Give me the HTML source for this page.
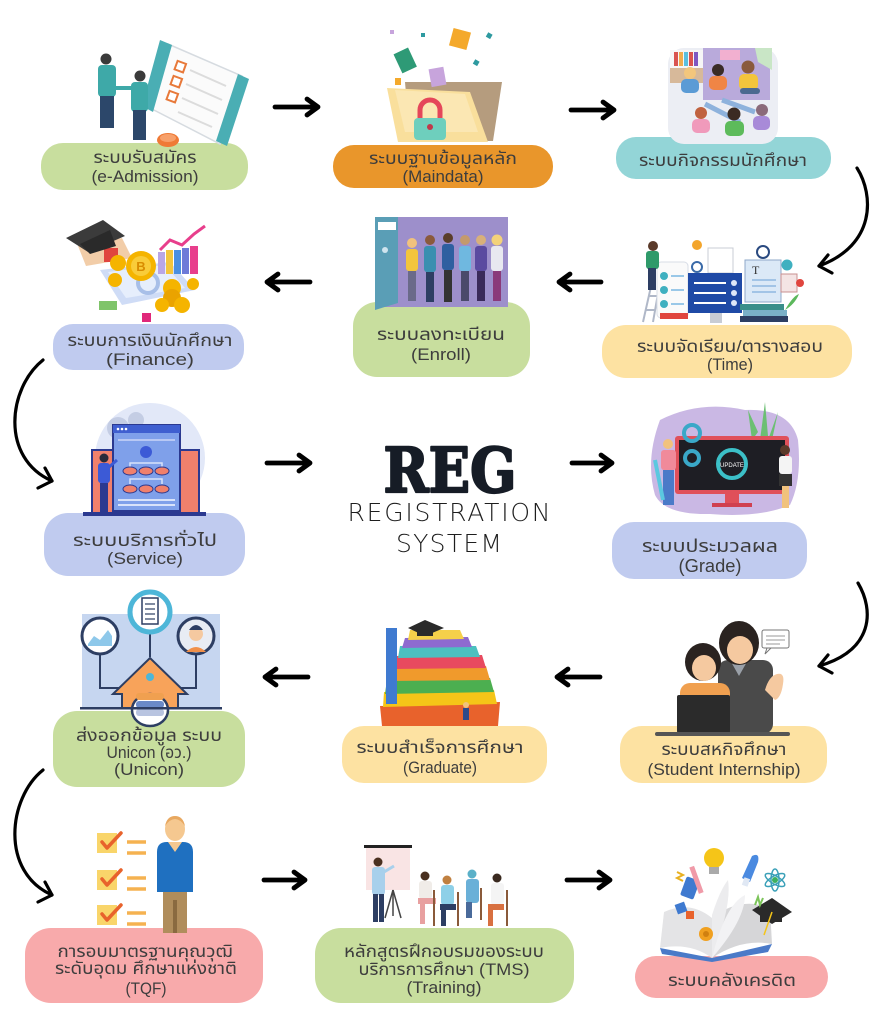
<!DOCTYPE html>
<html><head><meta charset="utf-8">
<style>
html,body{margin:0;padding:0;background:#fff;}
svg{display:block;}
.t{font-family:"Liberation Sans","Noto Sans Thai","Tahoma","Loma","Garuda","Noto Sans CJK SC",sans-serif;font-size:17px;fill:#3d3d3d;text-anchor:middle;}
</style></head><body>
<svg width="876" height="1024" viewBox="0 0 876 1024" xmlns="http://www.w3.org/2000/svg">
<rect width="876" height="1024" fill="#fff"/>

<!-- PILLS -->
<rect x="41" y="143" width="207" height="47" rx="22" fill="#c8de9e"/>
<rect x="333" y="145" width="220" height="43" rx="21" fill="#e9962b"/>
<rect x="616" y="137" width="215" height="42" rx="20" fill="#93d5d7"/>
<rect x="53" y="324" width="191" height="46" rx="20" fill="#c0cbef"/>
<rect x="353" y="302" width="177" height="75" rx="24" fill="#c8de9e"/>
<rect x="602" y="325" width="250" height="53" rx="24" fill="#fde2a2"/>
<rect x="44" y="513" width="201" height="63" rx="24" fill="#c0cbef"/>
<rect x="612" y="522" width="195" height="57" rx="22" fill="#c0cbef"/>
<rect x="53" y="711" width="192" height="76" rx="24" fill="#c8de9e"/>
<rect x="342" y="726" width="205" height="57" rx="22" fill="#fde2a2"/>
<rect x="620" y="726" width="207" height="57" rx="22" fill="#fde2a2"/>
<rect x="25" y="928" width="238" height="75" rx="26" fill="#f8aaab"/>
<rect x="315" y="928" width="259" height="75" rx="26" fill="#c8de9e"/>
<rect x="635" y="956" width="193" height="42" rx="21" fill="#f8aaab"/>

<!-- ILLUSTRATION 1: Admission -->
<g>
<polygon points="168,44 242,76 220,144 150,108" fill="#fbfbfb" stroke="#d6dbe0" stroke-width="1.5"/>
<polygon points="160,40 172,45 153,112 142,106" fill="#4aaeb4"/>
<polygon points="238,74 249,79 227,146 216,141" fill="#4aaeb4"/>
<g stroke="#dcdcdc" stroke-width="2">
<line x1="190" y1="70" x2="226" y2="86"/><line x1="186" y1="84" x2="222" y2="100"/>
<line x1="182" y1="98" x2="218" y2="114"/><line x1="178" y1="112" x2="212" y2="127"/>
</g>
<g fill="#fff" stroke="#e8793a" stroke-width="2">
<rect x="176" y="62" width="9" height="9" transform="rotate(20 180 66)"/>
<rect x="172" y="77" width="9" height="9" transform="rotate(20 176 81)"/>
<rect x="168" y="92" width="9" height="9" transform="rotate(20 172 96)"/>
</g>
<ellipse cx="168" cy="140" rx="11" ry="7" fill="#ef7a36"/>
<ellipse cx="168" cy="138" rx="8" ry="4" fill="#f7a06a"/>
<circle cx="106" cy="59" r="5.5" fill="#3a3a3a"/>
<rect x="98" y="65" width="18" height="32" rx="4" fill="#3ea9a8"/>
<rect x="100" y="96" width="14" height="32" fill="#2c476a"/>
<circle cx="140" cy="76" r="5.5" fill="#3a3a3a"/>
<rect x="131" y="82" width="17" height="30" rx="4" fill="#3ea9a8"/>
<rect x="133" y="110" width="13" height="30" fill="#2c476a"/>
<line x1="115" y1="88" x2="132" y2="88" stroke="#3ea9a8" stroke-width="4"/>
</g>

<!-- ILLUSTRATION 2: Maindata -->
<g>
<polygon points="405,82 502,82 493,141 410,141" fill="#b59c7e"/>
<polygon points="387,88 470,92 488,142 398,142" fill="#f9df9c"/>
<polygon points="395,90 465,94 478,132 405,132" fill="#fbe7b3"/>
<path d="M420,120 v-10 a10,10 0 0 1 20,0 v10" fill="none" stroke="#e5475a" stroke-width="5"/>
<rect x="414" y="118" width="32" height="22" rx="4" fill="#6ecfbd"/>
<circle cx="430" cy="127" r="3" fill="#c0394a"/>
<rect x="397" y="50" width="16" height="21" fill="#2e9a76" transform="rotate(-25 405 60)"/>
<rect x="451" y="30" width="18" height="18" fill="#f4a92c" transform="rotate(15 460 39)"/>
<rect x="430" y="68" width="15" height="18" fill="#c7a4dc" transform="rotate(-10 437 77)"/>
<rect x="487" y="33" width="5" height="5" fill="#2e9aa0" transform="rotate(30 489 35)"/>
<rect x="474" y="60" width="5" height="5" fill="#2e9aa0" transform="rotate(30 476 62)"/>
<rect x="421" y="33" width="4" height="4" fill="#2e9aa0"/>
<rect x="390" y="30" width="4" height="4" fill="#c7a4dc"/>
<rect x="395" y="78" width="6" height="7" fill="#f4a92c"/>
</g>

<!-- ILLUSTRATION 3: Activities -->
<g>
<rect x="668" y="48" width="110" height="96" rx="16" fill="#eceef4"/>
<rect x="703" y="48" width="67" height="52" fill="#b9aadb"/>
<rect x="720" y="50" width="20" height="10" fill="#f2b0d0"/>
<polygon points="755,48 772,48 772,70 758,62" fill="#c9e6c6"/>
<rect x="670" y="50" width="33" height="33" fill="#f6f6f6"/>
<g><rect x="674" y="52" width="4" height="14" fill="#d9534f"/><rect x="679" y="52" width="4" height="14" fill="#f0ad4e"/><rect x="684" y="52" width="4" height="14" fill="#5bc0de"/><rect x="689" y="52" width="4" height="14" fill="#d9534f"/><rect x="694" y="52" width="4" height="14" fill="#7e57c2"/></g>
<rect x="670" y="68" width="33" height="15" fill="#d7b99a"/>
<circle cx="690" cy="73" r="6" fill="#f3c67c"/><rect x="681" y="79" width="18" height="14" rx="5" fill="#5b9bd5"/>
<circle cx="718" cy="70" r="6" fill="#3a2b26"/><rect x="709" y="76" width="18" height="14" rx="5" fill="#f08545"/>
<circle cx="748" cy="67" r="6.5" fill="#8a5a3c"/><rect x="739" y="74" width="19" height="16" rx="5" fill="#f3c53c"/>
<rect x="740" y="88" width="20" height="6" rx="3" fill="#4c6a90"/>
<g stroke="#8eb2dc" stroke-width="5"><line x1="705" y1="104" x2="740" y2="122"/><line x1="722" y1="100" x2="755" y2="112"/></g>
<circle cx="701" cy="113" r="6" fill="#c0623f"/><rect x="692" y="119" width="18" height="14" rx="5" fill="#f09abb"/>
<circle cx="734" cy="114" r="6.5" fill="#3b2b22"/><rect x="725" y="121" width="19" height="15" rx="5" fill="#5dbb5b"/>
<circle cx="762" cy="110" r="6" fill="#8b6a7a"/><rect x="753" y="116" width="17" height="14" rx="5" fill="#a88ad8"/>
</g>

<!-- ILLUSTRATION 4: Finance -->
<g>
<polygon points="100,270 170,262 195,290 122,305" fill="#cfdcf6"/>
<polygon points="108,272 165,265 185,288 126,298" fill="#e6eefc"/>
<circle cx="148" cy="283" r="10" fill="none" stroke="#a8bfe8" stroke-width="4"/>
<polygon points="78,246 122,238 132,258 86,266" fill="#f2cda8"/>
<rect x="104" y="248" width="14" height="14" fill="#e0453e"/>
<polygon points="66,238 103,220 125,236 88,252" fill="#3b3b3b"/>
<polygon points="80,244 110,230 116,246 90,254" fill="#2a2a2a"/>
<rect x="158" y="252" width="7" height="22" fill="#b9a6e6"/>
<rect x="166" y="250" width="7" height="24" fill="#f3c53c"/>
<rect x="174" y="250" width="7" height="24" fill="#4a8fe0"/>
<rect x="182" y="248" width="7" height="26" fill="#6d7ad8"/>
<rect x="190" y="246" width="8" height="28" fill="#e83e8c"/>
<polyline points="160,250 170,240 182,245 194,234 205,226" fill="none" stroke="#e83e8c" stroke-width="3"/>
<circle cx="141" cy="266" r="15" fill="#f5b400"/>
<circle cx="141" cy="266" r="10" fill="#f9cc3a"/>
<text x="141" y="271" font-family="Liberation Sans,sans-serif" font-size="13" font-weight="bold" fill="#d98c00" text-anchor="middle">B</text>
<circle cx="118" cy="263" r="8" fill="#f5b400"/>
<circle cx="115" cy="280" r="7" fill="#f5b400"/>
<circle cx="172" cy="288" r="9" fill="#f5b400"/><circle cx="172" cy="298" r="9" fill="#eaa300"/>
<circle cx="182" cy="305" r="8" fill="#f5b400"/>
<circle cx="193" cy="284" r="6" fill="#f5b400"/>
<circle cx="162" cy="305" r="7" fill="#f5b400"/>
<rect x="99" y="301" width="18" height="9" fill="#7fc46a"/>
<rect x="142" y="313" width="9" height="9" fill="#e0287a"/>
</g>

<!-- ILLUSTRATION 5: Enroll -->
<g>
<rect x="375" y="217" width="133" height="90" fill="#9d8fcb"/>
<polygon points="375,217 398,217 398,303 375,310" fill="#5a9eb6"/>
<rect x="378" y="222" width="18" height="8" fill="#fff"/>
<circle cx="385" cy="250" r="3" fill="#cfe4ee"/>
<g>
<circle cx="412" cy="243" r="5" fill="#f1c27d"/><rect x="406" y="249" width="12" height="22" rx="3" fill="#f3c53c"/><rect x="408" y="271" width="8" height="30" fill="#6a6a8a"/>
<circle cx="430" cy="240" r="5" fill="#8a5a3c"/><rect x="424" y="246" width="12" height="26" rx="3" fill="#3a8fb0"/><rect x="426" y="272" width="8" height="30" fill="#2d3e63"/>
<circle cx="448" cy="238" r="5" fill="#5a3e2a"/><rect x="442" y="244" width="12" height="26" rx="3" fill="#2e5fa0"/><rect x="444" y="270" width="8" height="32" fill="#333"/>
<circle cx="465" cy="240" r="5" fill="#c49a6c"/><rect x="459" y="246" width="12" height="25" rx="3" fill="#6fb8e0"/><rect x="461" y="271" width="8" height="30" fill="#4a4a6a"/>
<circle cx="481" cy="240" r="5" fill="#d8b07a"/><rect x="475" y="246" width="12" height="25" rx="3" fill="#5a4aa0"/><rect x="477" y="271" width="8" height="30" fill="#3a2a5a"/>
<circle cx="497" cy="240" r="5.5" fill="#f3d27a"/><rect x="491" y="246" width="12" height="25" rx="3" fill="#e8e8f0"/><rect x="493" y="271" width="8" height="30" fill="#8a3a7a"/>
</g>
</g>

<!-- ILLUSTRATION 6: Time -->
<g>
<g stroke="#b0b8c8" stroke-width="2"><line x1="643" y1="322" x2="652" y2="282"/><line x1="653" y1="322" x2="660" y2="282"/><line x1="645" y1="310" x2="655" y2="310"/><line x1="648" y1="296" x2="657" y2="296"/></g>
<rect x="657" y="262" width="31" height="56" rx="4" fill="#fafafa" stroke="#d8dde6"/>
<g fill="#3fb0c0"><circle cx="664" cy="276" r="4"/><circle cx="664" cy="290" r="4"/><circle cx="664" cy="304" r="4"/></g>
<g stroke="#9ac8e8" stroke-width="2"><line x1="671" y1="276" x2="684" y2="276"/><line x1="671" y1="290" x2="684" y2="290"/><line x1="671" y1="304" x2="684" y2="304"/></g>
<rect x="660" y="313" width="28" height="6" fill="#e0453e"/>
<circle cx="653" cy="246" r="5" fill="#5a3a2a"/>
<rect x="646" y="251" width="13" height="18" rx="3" fill="#2f9a6a"/>
<rect x="648" y="268" width="8" height="22" fill="#2d3e63"/>
<rect x="708" y="248" width="25" height="25" fill="#fff" stroke="#c8ccd4"/>
<circle cx="697" cy="245" r="5" fill="#f3a52c"/>
<circle cx="697" cy="267" r="5" fill="none" stroke="#3a6aa8" stroke-width="2"/>
<rect x="688" y="273" width="54" height="40" fill="#1f4aa6"/>
<g stroke="#fff" stroke-width="2"><line x1="694" y1="283" x2="726" y2="283"/><line x1="694" y1="293" x2="726" y2="293"/><line x1="694" y1="303" x2="726" y2="303"/></g>
<g fill="#dfe8f8"><circle cx="734" cy="283" r="3"/><circle cx="734" cy="293" r="3"/><circle cx="734" cy="303" r="3"/></g>
<rect x="710" y="313" width="12" height="10" fill="#c8ccd4"/>
<rect x="745" y="260" width="36" height="42" fill="#dbe9f7" stroke="#8fa8c8"/>
<text x="752" y="274" font-family="Liberation Serif,serif" font-size="12" fill="#333">T</text>
<g stroke="#8fb8e0" stroke-width="1.5"><line x1="752" y1="280" x2="776" y2="280"/><line x1="752" y1="286" x2="776" y2="286"/><line x1="752" y1="292" x2="776" y2="292"/></g>
<circle cx="763" cy="252" r="6" fill="#fff" stroke="#2a4a80" stroke-width="2"/>
<rect x="781" y="274" width="16" height="18" fill="#f4e4e4" stroke="#c89090"/>
<circle cx="787" cy="265" r="5.5" fill="#3fb0c0"/>
<circle cx="800" cy="283" r="4" fill="#e0453e"/>
<rect x="740" y="304" width="44" height="6" fill="#3a8f8a"/>
<rect x="743" y="310" width="44" height="6" fill="#7ab0c8"/>
<rect x="740" y="316" width="48" height="6" fill="#2d3e63"/>
<path d="M785,310 q8,-14 14,-16 q-4,10 -14,16z" fill="#5cb85c"/>
</g>

<!-- ILLUSTRATION 7: Service -->
<g>
<circle cx="150" cy="458" r="55" fill="#e2e8f8"/>
<circle cx="118" cy="428" r="11" fill="#c4cde4"/>
<circle cx="136" cy="420" r="8" fill="#c4cde4"/>
<rect x="92" y="450" width="22" height="63" fill="#f0806c" stroke="#2b3990" stroke-width="2"/>
<rect x="178" y="450" width="21" height="63" fill="#f0806c" stroke="#2b3990" stroke-width="2"/>
<rect x="113" y="425" width="67" height="86" fill="#7fa0ea" stroke="#2b3990" stroke-width="2"/>
<rect x="113" y="425" width="67" height="8" fill="#3f5fd0"/>
<g fill="#fff"><circle cx="118" cy="429" r="1.3"/><circle cx="122" cy="429" r="1.3"/><circle cx="126" cy="429" r="1.3"/></g>
<line x1="118" y1="440" x2="175" y2="440" stroke="#b8c8f4" stroke-width="2"/>
<circle cx="146" cy="452" r="6" fill="#3c5ad6"/>
<g fill="none" stroke="#d8e2fa" stroke-width="1.5"><path d="M130,468 v-5 h32 v5"/><path d="M130,484 v-5 h32 v5"/></g>
<g fill="#f0806c" stroke="#2b3990" stroke-width="1"><ellipse cx="130" cy="471" rx="7" ry="4"/><ellipse cx="146" cy="471" rx="7" ry="4"/><ellipse cx="162" cy="471" rx="7" ry="4"/><ellipse cx="130" cy="489" rx="7" ry="4"/><ellipse cx="146" cy="489" rx="7" ry="4"/><ellipse cx="162" cy="489" rx="7" ry="4"/></g>
<g stroke="#d8e2fa" stroke-width="2"><line x1="118" y1="500" x2="175" y2="500"/><line x1="118" y1="505" x2="175" y2="505"/></g>
<circle cx="104" cy="458" r="4.5" fill="#2a2a3a"/>
<rect x="98" y="463" width="12" height="20" rx="3" fill="#3c5ad6"/>
<rect x="100" y="483" width="8" height="29" fill="#2b3990"/>
<line x1="108" y1="468" x2="117" y2="460" stroke="#3c5ad6" stroke-width="3"/>
<rect x="83" y="512" width="123" height="4" fill="#2b3990"/>
</g>

<!-- ILLUSTRATION 8: Grade -->
<g>
<path d="M660,420 Q700,400 745,410 Q790,408 798,440 Q802,480 790,505 Q760,518 710,514 Q665,515 655,495 Q645,460 660,420Z" fill="#cab8e4"/>
<g fill="#6cbf73"><polygon points="752,440 748,410 758,432"/><polygon points="760,440 765,402 768,436"/><polygon points="768,440 778,412 772,440"/></g>
<rect x="675" y="436" width="114" height="58" rx="3" fill="#e0505a"/>
<rect x="679" y="440" width="106" height="50" fill="#1e1e24"/>
<circle cx="732" cy="464" r="14" fill="none" stroke="#3cc0c8" stroke-width="4"/>
<text x="732" y="467" font-family="Liberation Sans,sans-serif" font-size="6" fill="#fff" text-anchor="middle">UPDATE</text>
<rect x="725" y="494" width="14" height="10" fill="#e0505a"/>
<rect x="712" y="503" width="40" height="4" fill="#d04050"/>
<circle cx="692" cy="433" r="8" fill="none" stroke="#3aa8c8" stroke-width="4"/>
<circle cx="692" cy="458" r="7" fill="none" stroke="#3aa8c8" stroke-width="4"/>
<circle cx="668" cy="444" r="5" fill="#f1c27d"/>
<rect x="661" y="450" width="15" height="20" rx="3" fill="#f08a9a"/>
<rect x="663" y="470" width="11" height="35" fill="#4a7ac8"/>
<path d="M655,460 l8,40" stroke="#5bc8e0" stroke-width="4"/>
<circle cx="785" cy="450" r="5" fill="#5a3a2a"/>
<rect x="779" y="456" width="13" height="18" rx="3" fill="#f4f4f4"/>
<rect x="779" y="474" width="13" height="12" fill="#333"/>
<rect x="782" y="486" width="7" height="22" fill="#f1c27d"/>
</g>

<!-- ILLUSTRATION 9: Unicon -->
<g>
<rect x="82" y="614" width="138" height="94" fill="#c6d6f0"/>
<g stroke="#2d3e63" stroke-width="2" fill="none">
<path d="M100,653 v35 h20"/><path d="M150,632 v25"/><path d="M196,653 v35 h-16"/>
</g>
<circle cx="100" cy="636" r="18" fill="#fff" stroke="#2d3e63" stroke-width="3"/>
<path d="M88,644 l6,-8 l6,4 l8,-10 l4,6 v10 h-24z" fill="#8ec8ea"/>
<circle cx="150" cy="612" r="20" fill="#fff" stroke="#4db6d8" stroke-width="5"/>
<rect x="142" y="598" width="16" height="26" fill="#fff" stroke="#2d3e63" stroke-width="1.5"/>
<g stroke="#2d3e63" stroke-width="1.2"><line x1="145" y1="604" x2="155" y2="604"/><line x1="145" y1="609" x2="155" y2="609"/><line x1="145" y1="614" x2="155" y2="614"/><line x1="145" y1="619" x2="155" y2="619"/></g>
<circle cx="196" cy="636" r="18" fill="#e8ecf4" stroke="#2d3e63" stroke-width="3"/>
<path d="M186,652 q10,-10 20,0z" fill="#f0904a"/>
<circle cx="196" cy="634" r="7" fill="#f5c9a0"/>
<path d="M189,630 q7,-10 14,0" fill="#2d3e63"/>
<polygon points="113,694 150,658 187,694 178,694 178,708 122,708 122,694" fill="#f8a35a" stroke="#2d3e63" stroke-width="2"/>
<circle cx="150" cy="677" r="4" fill="#4db6d8"/>
<ellipse cx="150" cy="710" rx="18" ry="16" fill="#fff" stroke="#2d3e63" stroke-width="2.5"/>
<rect x="136" y="693" width="28" height="7" rx="3" fill="#f0a050"/>
<rect x="136" y="701" width="28" height="7" rx="3" fill="#6a8ac8"/>
<rect x="136" y="709" width="28" height="7" rx="3" fill="#b8c4e0"/>
<rect x="80" y="707" width="142" height="2.5" fill="#2d3e63"/>
</g>

<!-- ILLUSTRATION 10: Graduate -->
<g>
<polygon points="380,706 500,702 498,726 382,726" fill="#e8622c"/>
<polygon points="384,692 494,690 497,704 383,707" fill="#f5c518"/>
<polygon points="387,679 490,678 494,692 385,694" fill="#4caf50"/>
<polygon points="392,667 486,666 490,680 389,681" fill="#f09a2c"/>
<polygon points="396,656 482,655 486,668 393,669" fill="#e84a5f"/>
<polygon points="400,646 476,646 480,657 398,658" fill="#4cc0c0"/>
<polygon points="405,638 468,637 472,647 402,648" fill="#8e6ad0"/>
<polygon points="410,630 460,630 464,639 408,640" fill="#f5d04a"/>
<rect x="386" y="628" width="11" height="76" fill="#3f7ad0"/>
<polygon points="408,628 425,620 444,628 425,636" fill="#2a2a2a"/>
<rect x="417" y="630" width="16" height="6" fill="#2a2a2a"/>
<circle cx="466" cy="705" r="3" fill="#f1c27d"/><rect x="463" y="708" width="6" height="12" fill="#2d4a8a"/>
</g>

<!-- ILLUSTRATION 11: Internship -->
<g>
<rect x="718" y="660" width="55" height="74" rx="10" fill="#4a4a4a"/>
<polygon points="730,660 748,660 739,676" fill="#9aa0a8"/>
<ellipse cx="739" cy="643" rx="20" ry="22" fill="#2a2320"/>
<ellipse cx="740" cy="650" rx="13" ry="14" fill="#f5c9a0"/>
<path d="M726,636 q14,-14 28,0 v-6 q-14,-12 -28,0z" fill="#2a2320"/>
<path d="M765,690 q4,-14 12,-16 q8,-2 6,10 q-2,14 -8,16z" fill="#f5c9a0"/>
<rect x="680" y="683" width="50" height="50" rx="10" fill="#f0a050"/>
<ellipse cx="703" cy="662" rx="18" ry="19" fill="#2a2320"/>
<ellipse cx="704" cy="668" rx="12" ry="13" fill="#f5c9a0"/>
<path d="M690,660 q14,-14 28,0 v-6 q-14,-12 -28,0z" fill="#2a2320"/>
<rect x="677" y="695" width="53" height="38" rx="2" fill="#2b2b2b"/>
<rect x="655" y="732" width="135" height="4" rx="2" fill="#555"/>
<rect x="762" y="630" width="27" height="18" rx="2" fill="#fff" stroke="#777" stroke-width="1"/>
<polygon points="767,648 771,648 765,654" fill="#fff" stroke="#777" stroke-width="1"/>
<g stroke="#999" stroke-width="1"><line x1="766" y1="636" x2="785" y2="636"/><line x1="766" y1="640" x2="785" y2="640"/><line x1="766" y1="644" x2="780" y2="644"/></g>
</g>

<!-- ILLUSTRATION 12: TQF -->
<g>
<g fill="#f9d56a"><rect x="97" y="833" width="20" height="20"/><rect x="97" y="870" width="20" height="20"/><rect x="97" y="905" width="20" height="20"/></g>
<g fill="none" stroke="#e8622c" stroke-width="3.5" stroke-linecap="round" stroke-linejoin="round"><polyline points="102,842 107,848 121,833"/><polyline points="102,879 107,885 121,870"/><polyline points="102,914 107,920 121,905"/></g>
<g stroke="#f5b250" stroke-width="3.5"><line x1="127" y1="842" x2="146" y2="842"/><line x1="127" y1="853" x2="146" y2="853"/><line x1="127" y1="878" x2="146" y2="878"/><line x1="127" y1="889" x2="146" y2="889"/><line x1="127" y1="913" x2="146" y2="913"/><line x1="127" y1="924" x2="146" y2="924"/></g>
<rect x="163" y="888" width="24" height="45" fill="#b08d5c"/>
<rect x="173" y="900" width="4" height="33" fill="#8a6a40"/>
<path d="M157,852 q0,-10 10,-10 h16 q10,0 10,10 v40 h-36z" fill="#1f70c0"/>
<polygon points="168,842 182,842 175,852" fill="#f5c890"/>
<ellipse cx="175" cy="829" rx="10" ry="12" fill="#f5c890"/>
<path d="M165,826 q10,-14 20,0 q-2,-10 -10,-10 q-8,0 -10,10z" fill="#e8a860"/>
</g>

<!-- ILLUSTRATION 13: Training -->
<g>
<rect x="364" y="845" width="48" height="3" fill="#222"/>
<rect x="366" y="848" width="44" height="42" fill="#f9e4e4"/>
<g stroke="#444" stroke-width="1.5"><line x1="393" y1="890" x2="385" y2="918"/><line x1="393" y1="890" x2="401" y2="918"/><line x1="393" y1="890" x2="393" y2="916"/></g>
<circle cx="378" cy="862" r="4.5" fill="#4a3020"/>
<rect x="372" y="867" width="13" height="28" rx="3" fill="#a8d0ec"/>
<rect x="373" y="894" width="5" height="28" fill="#2d3e63"/><rect x="379" y="894" width="5" height="28" fill="#2d3e63"/>
<line x1="384" y1="872" x2="394" y2="866" stroke="#a8d0ec" stroke-width="3"/>
<g>
<circle cx="425" cy="876" r="4.5" fill="#4a3020"/><rect x="419" y="881" width="13" height="18" rx="3" fill="#f0ece8"/><rect x="418" y="898" width="18" height="6" fill="#e8a0a0"/><rect x="420" y="904" width="5" height="20" fill="#e8a0a0"/>
<circle cx="447" cy="880" r="4.5" fill="#c08040"/><rect x="441" y="885" width="13" height="20" rx="3" fill="#8ed0e8"/><rect x="440" y="904" width="16" height="6" fill="#2d3e63"/><rect x="441" y="910" width="5" height="16" fill="#2d3e63"/>
<circle cx="472" cy="874" r="4.5" fill="#5ab0c8"/><rect x="466" y="879" width="13" height="24" rx="3" fill="#6ab0d8"/><rect x="466" y="902" width="6" height="16" fill="#4a6a9a"/>
<circle cx="497" cy="878" r="4.5" fill="#3a2a20"/><rect x="491" y="883" width="13" height="22" rx="3" fill="#f4f4f4"/><rect x="488" y="904" width="16" height="6" fill="#d87040"/><rect x="488" y="910" width="5" height="16" fill="#d87040"/>
<g stroke="#8a5a3a" stroke-width="2"><line x1="434" y1="890" x2="434" y2="926"/><line x1="458" y1="892" x2="458" y2="926"/><line x1="481" y1="888" x2="481" y2="920"/><line x1="507" y1="890" x2="507" y2="926"/></g>
</g>
</g>

<!-- ILLUSTRATION 14: Credit bank -->
<g>
<path d="M660,948 L712,958 L772,944 L768,952 L712,962 L662,954Z" fill="#4a7ac8"/>
<path d="M664,912 Q690,900 712,918 L712,958 Q690,942 660,948Z" fill="#e4e4e6"/>
<path d="M712,918 Q740,896 770,908 L772,944 Q742,938 712,958Z" fill="#d6d6d8"/>
<path d="M712,958 L712,915 Q720,890 728,880 Q732,905 712,958Z" fill="#ececee"/>
<path d="M712,958 Q725,905 745,895 Q745,920 712,958Z" fill="#f2f2f4"/>
<circle cx="706" cy="934" r="7" fill="#f0a020"/>
<circle cx="706" cy="934" r="3" fill="#d08010"/>
<rect x="676" y="903" width="10" height="10" fill="#3f7ad0" transform="rotate(-20 681 908)"/>
<rect x="686" y="911" width="8" height="8" fill="#e8622c"/>
<rect x="683" y="878" width="14" height="20" rx="2" fill="#3f7ad0" transform="rotate(20 690 888)"/>
<rect x="694" y="866" width="5" height="28" fill="#f09aa8" transform="rotate(-20 696 880)"/>
<path d="M677,872 l6,3 l-6,3 l6,3" stroke="#e8b020" stroke-width="2" fill="none"/>
<circle cx="714" cy="858" r="10" fill="#f5c518"/>
<rect x="709" y="867" width="10" height="7" fill="#aaa"/>
<path d="M742,878 L752,856 Q760,852 758,862 L750,882Z" fill="#4a8ae0"/>
<rect x="743" y="878" width="6" height="8" fill="#e0e8f4" transform="rotate(20 746 882)"/>
<g fill="none" stroke="#3aa0b8" stroke-width="1.5"><ellipse cx="775" cy="880" rx="11" ry="4" transform="rotate(30 775 880)"/><ellipse cx="775" cy="880" rx="11" ry="4" transform="rotate(-30 775 880)"/><ellipse cx="775" cy="880" rx="4" ry="11"/></g>
<circle cx="775" cy="880" r="3" fill="#3cb060"/>
<polygon points="752,910 772,898 792,912 772,924" fill="#2a2a2a"/>
<rect x="760" y="912" width="22" height="10" fill="#2a2a2a"/>
<line x1="772" y1="912" x2="764" y2="935" stroke="#f5c518" stroke-width="1.5"/>
<path d="M755,905 l3,-8 l2,8 l3,-7" stroke="#7cc45a" stroke-width="2" fill="none"/>
</g>

<!-- ARROWS -->
<g fill="none" stroke="#000" stroke-width="4.8" stroke-linecap="round" stroke-linejoin="round">
<path d="M275,107 H318 M307,99 L318,107 L307,115"/>
<path d="M571,110 H614 M603,102 L614,110 L603,118"/>
<path d="M601,282 H559 M570,274 L559,282 L570,290"/>
<path d="M310,282 H267 M278,274 L267,282 L278,290"/>
<path d="M267,463 H310 M299,455 L310,463 L299,471"/>
<path d="M572,463 H612 M601,455 L612,463 L601,471"/>
<path d="M600,677 H557 M568,669 L557,677 L568,685"/>
<path d="M308,677 H265 M276,669 L265,677 L276,685"/>
<path d="M264,880 H305 M294,872 L305,880 L294,888"/>
<path d="M567,880 H610 M599,872 L610,880 L599,888"/>
</g>
<g fill="none" stroke="#000" stroke-width="3.2" stroke-linecap="round" stroke-linejoin="round">
<path d="M857,168 C874,195 876,245 819,266"/>
<path d="M828,255 L819,266 L832,273"/>
<path d="M43,360 C8,388 0,458 52,481"/>
<path d="M45,468 L52,481 L38,488"/>
<path d="M858,583 C874,610 874,650 819,666"/>
<path d="M828,655 L819,666 L832,673"/>
<path d="M43,770 C8,798 0,872 52,895"/>
<path d="M45,882 L52,895 L38,902"/>
</g>

<!-- CENTER TITLE -->
<text x="450" y="492" font-family="DejaVu Serif,Liberation Serif,serif" font-weight="bold" font-size="62" fill="#161c26" stroke="#161c26" stroke-width="2.2" stroke-linejoin="round" text-anchor="middle" textLength="133" lengthAdjust="spacingAndGlyphs">REG</text>
<text x="449" y="521" font-family="DejaVu Sans,Liberation Sans,sans-serif" font-size="25" fill="#1e1e1e" text-anchor="middle" textLength="203" lengthAdjust="spacing" style="font-weight:300">REGISTRATION</text>
<text x="449" y="552" font-family="DejaVu Sans,Liberation Sans,sans-serif" font-size="25" fill="#1e1e1e" text-anchor="middle" textLength="106" lengthAdjust="spacing" style="font-weight:300">SYSTEM</text>

<!-- LABELS -->
<text class="t" x="145" y="163" textLength="103" lengthAdjust="spacingAndGlyphs">ระบบรับสมัคร</text>
<text class="t" x="145" y="182" textLength="107" lengthAdjust="spacingAndGlyphs">(e-Admission)</text>

<text class="t" x="443" y="164" textLength="148" lengthAdjust="spacingAndGlyphs">ระบบฐานข้อมูลหลัก</text>
<text class="t" x="443" y="182" textLength="81" lengthAdjust="spacingAndGlyphs">(Maindata)</text>

<text class="t" x="723" y="166" textLength="168" lengthAdjust="spacingAndGlyphs">ระบบกิจกรรมนักศึกษา</text>

<text class="t" x="150" y="346" textLength="165" lengthAdjust="spacingAndGlyphs">ระบบการเงินนักศึกษา</text>
<text class="t" x="150" y="365" textLength="88" lengthAdjust="spacingAndGlyphs">(Finance)</text>

<text class="t" x="441" y="340" textLength="128" lengthAdjust="spacingAndGlyphs">ระบบลงทะเบียน</text>
<text class="t" x="441" y="360" textLength="60" lengthAdjust="spacingAndGlyphs">(Enroll)</text>

<text class="t" x="730" y="352" textLength="186" lengthAdjust="spacingAndGlyphs">ระบบจัดเรียน/ตารางสอบ</text>
<text class="t" x="730" y="370" textLength="46" lengthAdjust="spacingAndGlyphs">(Time)</text>

<text class="t" x="145" y="546" textLength="144" lengthAdjust="spacingAndGlyphs">ระบบบริการทั่วไป</text>
<text class="t" x="145" y="564" textLength="76" lengthAdjust="spacingAndGlyphs">(Service)</text>

<text class="t" x="710" y="552" style="font-size:18px" textLength="136" lengthAdjust="spacingAndGlyphs">ระบบประมวลผล</text>
<text class="t" x="710" y="572" style="font-size:18px" textLength="63" lengthAdjust="spacingAndGlyphs">(Grade)</text>

<text class="t" x="149" y="741" textLength="146" lengthAdjust="spacingAndGlyphs">ส่งออกข้อมูล ระบบ</text>
<text class="t" x="149" y="758" textLength="85" lengthAdjust="spacingAndGlyphs">Unicon (อว.)</text>
<text class="t" x="149" y="775" textLength="70" lengthAdjust="spacingAndGlyphs">(Unicon)</text>

<text class="t" x="440" y="753" textLength="167" lengthAdjust="spacingAndGlyphs">ระบบสำเร็จการศึกษา</text>
<text class="t" x="440" y="773" textLength="74" lengthAdjust="spacingAndGlyphs">(Graduate)</text>

<text class="t" x="724" y="755" textLength="125" lengthAdjust="spacingAndGlyphs">ระบบสหกิจศึกษา</text>
<text class="t" x="724" y="775" textLength="153" lengthAdjust="spacingAndGlyphs">(Student Internship)</text>

<text class="t" x="145" y="957" textLength="175" lengthAdjust="spacingAndGlyphs">การอบมาตรฐานคุณวุฒิ</text>
<text class="t" x="146" y="974" textLength="182" lengthAdjust="spacingAndGlyphs">ระดับอุดม ศึกษาแห่งชาติ</text>
<text class="t" x="146" y="994" textLength="41" lengthAdjust="spacingAndGlyphs">(TQF)</text>

<text class="t" x="444" y="957" textLength="200" lengthAdjust="spacingAndGlyphs">หลักสูตรฝึกอบรมของระบบ</text>
<text class="t" x="444" y="975" textLength="171" lengthAdjust="spacingAndGlyphs">บริการการศึกษา (TMS)</text>
<text class="t" x="444" y="993" textLength="75" lengthAdjust="spacingAndGlyphs">(Training)</text>

<text class="t" x="732" y="986" textLength="128" lengthAdjust="spacingAndGlyphs">ระบบคลังเครดิต</text>
</svg>
</body></html>
